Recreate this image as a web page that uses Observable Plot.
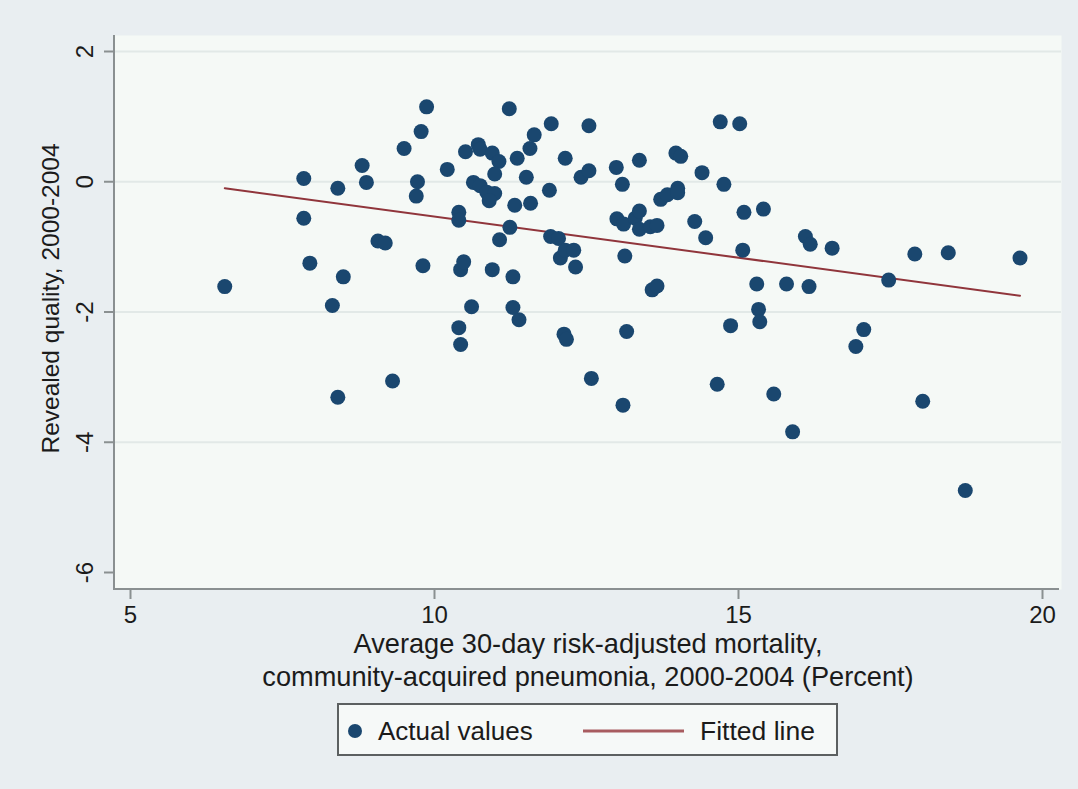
<!DOCTYPE html>
<html>
<head>
<meta charset="utf-8">
<script src="https://cdn.jsdelivr.net/npm/d3@7"></script>
<script src="https://cdn.jsdelivr.net/npm/@observablehq/plot@0.6"></script>
<style>
  body { margin: 0; background: #E9EEF1; }
  #wrap { position: relative; width: 1078px; height: 789px; background: #E9EEF1; font-family: "Liberation Sans", Arial, sans-serif; overflow: hidden; }
  #chart { position: absolute; left: 0; top: 0; }
  #legend { position: absolute; left: 337px; top: 703px; width: 497px; height: 49px; border: 2px solid #5C6061; background: #F6F9F8; }
  #legend svg { display: block; }
</style>
</head>
<body>
<div id="wrap">
  <div id="chart"></div>
  <div id="legend"></div>
</div>
<script>
// ---- data ----
const mortality = [6.55, 7.85, 7.85, 7.95, 8.32, 8.41, 8.41, 8.50, 8.81, 8.88,
  9.07, 9.19, 9.31, 9.50, 9.70, 9.72, 9.78, 9.81, 9.87, 10.21,
  10.40, 10.40, 10.40, 10.43, 10.43, 10.48, 10.51, 10.61, 10.64, 10.72,
  10.75, 10.75, 10.86, 10.99, 10.90, 10.95, 11.06, 10.99, 10.95, 11.07,
  11.23, 11.24, 11.29, 11.29, 11.32, 11.36, 11.39, 11.51, 11.57, 11.58,
  11.64, 11.89, 11.91, 11.92, 12.04, 12.07, 12.13, 12.15, 12.15, 12.17,
  12.29, 12.32, 12.41, 12.54, 12.54, 12.58, 12.99, 13.00, 13.11, 13.09,
  13.13, 13.10, 13.16, 13.30, 13.37, 13.37, 13.37, 13.55, 13.66, 13.58,
  13.66, 13.72, 13.83, 14.00, 14.00, 13.97, 14.05, 14.28, 14.40, 14.46,
  14.65, 14.70, 14.76, 14.87, 15.02, 15.07, 15.09, 15.30, 15.33, 15.35,
  15.41, 15.58, 15.79, 15.89, 16.10, 16.18, 16.16, 16.54, 16.93, 17.06,
  17.47, 17.90, 18.03, 18.45, 18.73, 19.63];
const quality = [-1.61, 0.05, -0.56, -1.25, -1.90, -0.10, -3.31, -1.46, 0.25, -0.01,
  -0.91, -0.94, -3.06, 0.51, -0.22, 0.00, 0.77, -1.29, 1.15, 0.19,
  -0.47, -0.59, -2.24, -2.50, -1.35, -1.23, 0.46, -1.92, -0.01, 0.57,
  0.50, -0.06, -0.16, -0.18, -0.29, 0.44, 0.31, 0.12, -1.35, -0.89,
  1.12, -0.70, -1.46, -1.93, -0.36, 0.36, -2.12, 0.07, 0.51, -0.33,
  0.72, -0.13, -0.84, 0.89, -0.87, -1.17, -2.34, 0.36, -1.05, -2.42,
  -1.05, -1.31, 0.07, 0.17, 0.86, -3.02, 0.22, -0.57, -0.65, -0.04,
  -1.14, -3.43, -2.30, -0.56, -0.45, -0.73, 0.33, -0.69, -0.67, -1.66,
  -1.60, -0.27, -0.20, -0.10, -0.17, 0.44, 0.39, -0.61, 0.14, -0.86,
  -3.11, 0.92, -0.04, -2.21, 0.89, -1.05, -0.47, -1.57, -1.96, -2.15,
  -0.42, -3.26, -1.57, -3.84, -0.84, -0.96, -1.61, -1.02, -2.53, -2.27,
  -1.51, -1.11, -3.37, -1.09, -4.74, -1.17];
const fitX = [6.55, 19.63];
const fitY = [-0.10, -1.75];
const xTicks = [5, 10, 15, 20];
const yTicks = [-6, -4, -2, 0, 2];
const gridTicks = [-4, -2, 0, 2];
const xTitleLines = ["Average 30-day risk-adjusted mortality,", "community-acquired pneumonia, 2000-2004 (Percent)"];
const yTitle = "Revealed quality, 2000-2004";
const legendLabels = ["Actual values", "Fitted line"];

const points = mortality.map((m, i) => ({x: m, y: quality[i]}));
const fit = fitX.map((v, i) => ({x: v, y: fitY[i]}));

const W = 1078, H = 700;
const NAVY = "#1A476F", MAROON = "#90353B", AXIS = "#8A9091", INK = "#1b1b1b";
const FONT = '"Liberation Sans", Arial, sans-serif';

function axisLines(index, scales, values, dims) {
  const g = d3.create("svg:g");
  const l = dims.marginLeft, t = dims.marginTop;
  const r = dims.width - dims.marginRight, b = dims.height - dims.marginBottom;
  g.append("line").attr("x1", l).attr("x2", l).attr("y1", t).attr("y2", b + 1)
    .attr("stroke", AXIS).attr("stroke-width", 2);
  g.append("line").attr("x1", l - 1).attr("x2", r - 2).attr("y1", b).attr("y2", b)
    .attr("stroke", AXIS).attr("stroke-width", 2);
  return g.node();
}

const chart = Plot.plot({
  width: W, height: H,
  marginLeft: 114, marginRight: 17, marginTop: 35, marginBottom: H - 589,
  style: {background: "transparent", fontFamily: FONT, color: INK},
  x: {domain: [5, 20], range: [130, 1042]},
  y: {domain: [-6, 2], range: [572, 51]},
  marks: [
    Plot.frame({fill: "#F5F9F6", stroke: null}),
    Plot.gridY(gridTicks, {stroke: "#E2E9E7", strokeOpacity: 1, strokeWidth: 2}),
    Plot.axisY(yTicks, {tickSize: 10, tickFormat: () => "", stroke: AXIS, strokeWidth: 2, label: null}),
    Plot.text(yTicks, {y: d => d, text: d => String(d), frameAnchor: "left", textAnchor: "middle", lineAnchor: "middle", dx: -29, rotate: -90, fontSize: 24, fill: INK}),
    Plot.axisX(xTicks, {tickSize: 10, tickPadding: 6, fontSize: 24, stroke: AXIS, strokeWidth: 2, label: null, fill: INK}),
    Plot.text([xTitleLines[0]], {text: d => d, frameAnchor: "bottom", textAnchor: "middle", lineAnchor: "middle", dy: 55, fontSize: 27.2, fill: INK}),
    Plot.text([xTitleLines[1]], {text: d => d, frameAnchor: "bottom", textAnchor: "middle", lineAnchor: "middle", dy: 88, fontSize: 27.2, fill: INK}),
    Plot.text([yTitle], {text: d => d, frameAnchor: "left", textAnchor: "middle", lineAnchor: "middle", dx: -63, dy: -14, rotate: -90, fontSize: 24.5, fill: INK}),
    axisLines,
    Plot.line(fit, {x: "x", y: "y", stroke: MAROON, strokeWidth: 2}),
    Plot.dot(points, {x: "x", y: "y", r: 7.5, fill: NAVY, stroke: null})
  ]
});
document.getElementById("chart").appendChild(chart);

// legend (below the SVG)
const lg = d3.select("#legend").append("svg").attr("width", 497).attr("height", 49)
  .style("font-family", FONT);
lg.append("circle").attr("cx", 16).attr("cy", 26).attr("r", 7).attr("fill", NAVY);
lg.append("text").attr("x", 39).attr("y", 35).attr("font-size", 26).attr("fill", INK).text(legendLabels[0]);
lg.append("line").attr("x1", 244).attr("x2", 345).attr("y1", 26).attr("y2", 26)
  .attr("stroke", "#A85C60").attr("stroke-width", 3);
lg.append("text").attr("x", 361).attr("y", 35).attr("font-size", 26.5).attr("fill", INK).text(legendLabels[1]);
</script>
</body>
</html>
